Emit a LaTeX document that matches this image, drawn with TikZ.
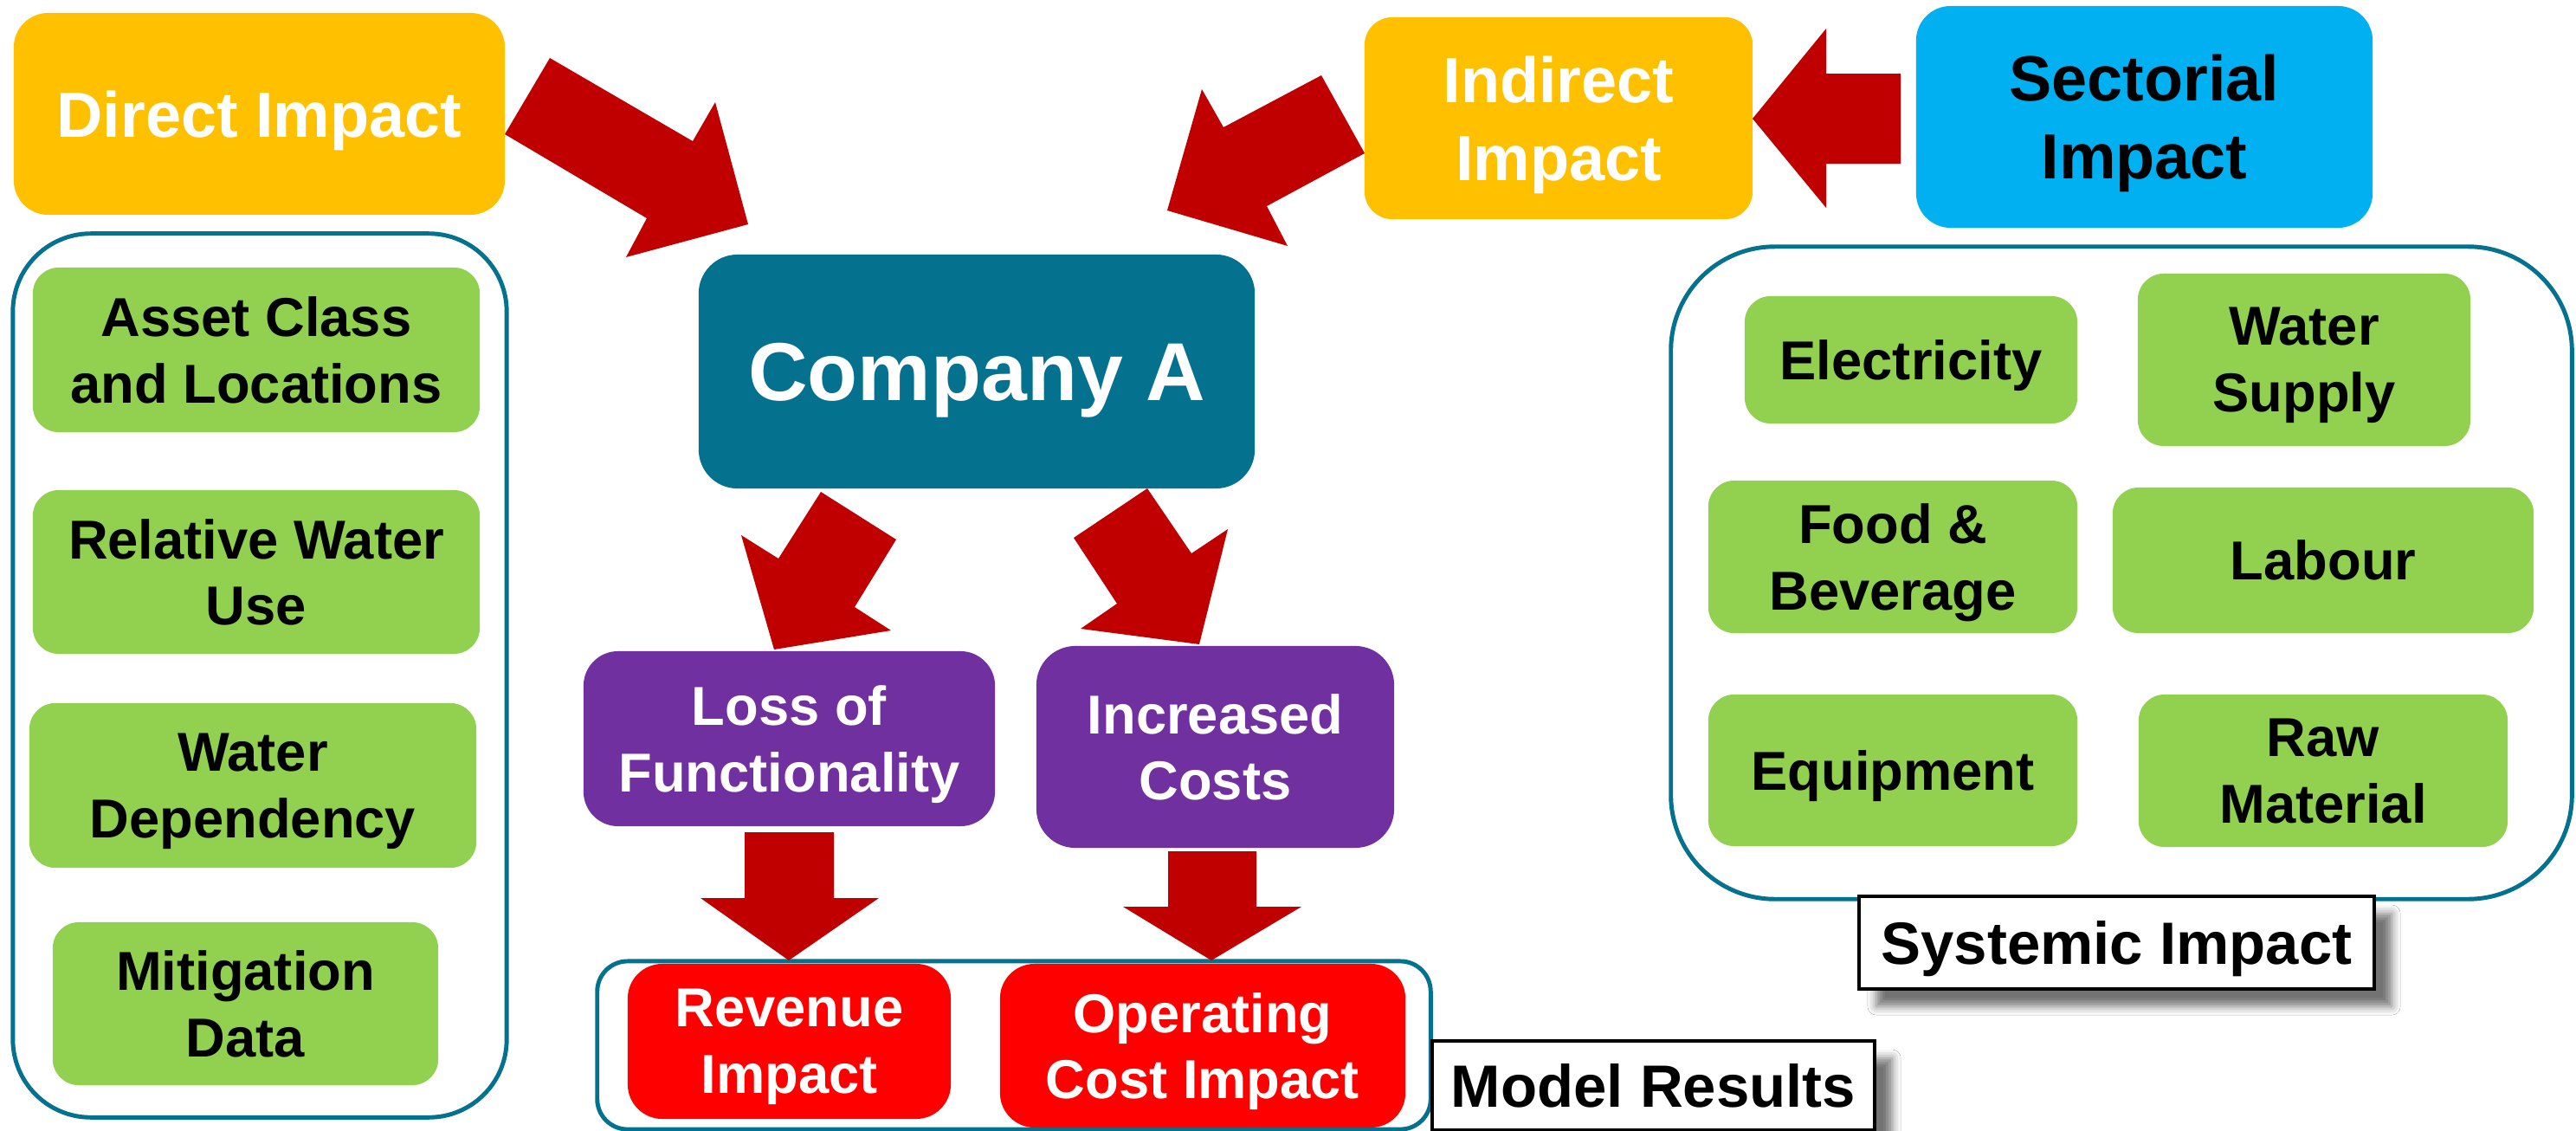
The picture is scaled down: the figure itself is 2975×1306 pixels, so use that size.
\documentclass[tikz,border=0pt]{standalone}
\usepackage{fontspec}
\setmainfont{Liberation Sans}
\usetikzlibrary{shadows.blur}
\definecolor{gold}{HTML}{FFC000}
\definecolor{sky}{HTML}{00B0F0}
\definecolor{tealc}{HTML}{04728F}
\definecolor{leaf}{HTML}{92D050}
\definecolor{plum}{HTML}{7030A0}
\definecolor{brightred}{HTML}{FF0000}
\definecolor{arrowred}{HTML}{C00000}
\begin{document}
\begin{tikzpicture}[x=0.01cm,y=-0.01cm,
  box/.style={rounded corners=4mm, inner sep=0pt, outer sep=0pt, align=center, text depth=0pt},
  fbig/.style={font=\fontsize{27pt}{31pt}\selectfont\bfseries},
  fmid/.style={font=\fontsize{21pt}{25.5pt}\selectfont\bfseries},
  fsml/.style={font=\fontsize{18pt}{21.8pt}\selectfont\bfseries},
  flab/.style={font=\fontsize{19.6pt}{23pt}\selectfont\bfseries},
  greenbox/.style={box, fill=leaf, text=black, fsml, rounded corners=3mm},
  outline/.style={draw=tealc, line width=1.4pt, inner sep=0pt, outer sep=0pt},
  labelbox/.style={draw=black, line width=1.2pt, fill=white, inner sep=0pt, flab, text depth=0pt,
     blur shadow={shadow xshift=2mm, shadow yshift=-2mm, shadow blur radius=1mm, shadow opacity=55}},
  blockarrow/.style={fill=arrowred, draw=none}
]
\useasboundingbox (0,0) rectangle (2975,1306);
\fill[white] (0,0) rectangle (2975,1306);

% containers
\node[outline, rounded corners=9mm, minimum width=57mm, minimum height=102mm] (leftbox) at (300,780) {};
\node[outline, rounded corners=12mm, minimum width=104mm, minimum height=75.3mm] (rightbox) at (2450,661.5) {};
\node[outline, rounded corners=3.5mm, minimum width=96.2mm, minimum height=19.4mm] (resultsbox) at (1171,1207) {};

% top boxes
\node[box, fill=gold, text=white, fmid, minimum width=56.7mm, minimum height=23.3mm] (direct) at (299.5,131.5) {Direct Impact};
\node[box, fill=gold, text=white, fmid, rounded corners=3.2mm, minimum width=44.8mm, minimum height=23.3mm] (indirect) at (1800,136.5) {Indirect\\Impact};
\node[box, fill=sky, text=black, fmid, minimum width=52.7mm, minimum height=25.6mm] (sectorial) at (2476.5,135) {Sectorial\\Impact};
\node[box, fill=tealc, text=white, fbig, rounded corners=4.5mm, minimum width=64.2mm, minimum height=27mm] (company) at (1128,429) {Company A};

% middle boxes
\node[box, fill=plum, text=white, fsml, minimum width=47.5mm, minimum height=20.2mm] (loss) at (911.5,853) {Loss of\\Functionality};
\node[box, fill=plum, text=white, fsml, rounded corners=4.5mm, minimum width=41.3mm, minimum height=23.3mm] (increased) at (1403.5,862.5) {Increased\\Costs};

% results
\node[box, fill=brightred, text=white, fsml, minimum width=37.3mm, minimum height=17.9mm] (revenue) at (911.5,1202.5) {Revenue\\Impact};
\node[box, fill=brightred, text=white, fsml, minimum width=46.8mm, minimum height=18.9mm] (operating) at (1389,1207.5) {Operating\\Cost Impact};

% left green boxes
\node[greenbox, minimum width=51.6mm, minimum height=19mm] (asset) at (296,404) {Asset Class\\and Locations};
\node[greenbox, minimum width=51.6mm, minimum height=18.9mm] (relwater) at (296,660.5) {Relative Water\\Use};
\node[greenbox, minimum width=51.6mm, minimum height=19mm] (dependency) at (292,907) {Water\\Dependency};
\node[greenbox, minimum width=44.5mm, minimum height=18.8mm] (mitigation) at (283.5,1159) {Mitigation\\Data};

% right green boxes
\node[greenbox, minimum width=38.4mm, minimum height=14.7mm] (electricity) at (2207,415.5) {Electricity};
\node[greenbox, minimum width=38.4mm, minimum height=19.9mm] (watersupply) at (2661,415.5) {Water\\Supply};
\node[greenbox, minimum width=42.6mm, minimum height=17.6mm] (food) at (2186,643) {Food \&\\Beverage};
\node[greenbox, minimum width=48.6mm, minimum height=16.8mm] (labour) at (2683,647) {Labour};
\node[greenbox, minimum width=42.6mm, minimum height=17.5mm] (equipment) at (2186,889.5) {Equipment};
\node[greenbox, minimum width=42.6mm, minimum height=17.6mm] (rawmat) at (2683,890) {Raw\\Material};

% labels
\node[labelbox, minimum width=59.5mm, minimum height=10.7mm] (systemic) at (2444.5,1088.5) {Systemic Impact};
\node[labelbox, minimum width=51.1mm, minimum height=10.3mm] (results) at (1909.5,1253.5) {Model Results};

% block arrows
\fill[blockarrow] (583,155) -- (635,67) -- (800,163) -- (826,118) -- (864,259) -- (723,297) -- (747,252) -- cycle;
\fill[blockarrow] (1526,87) -- (1576,177) -- (1463,238) -- (1487,284) -- (1348,243) -- (1388,103) -- (1413,147) -- cycle;
\fill[blockarrow] (2024,137) -- (2109,33) -- (2109,85) -- (2195,85) -- (2195,189) -- (2109,189) -- (2109,240) -- cycle;
\fill[blockarrow] (948,568) -- (1035,623) -- (987,701) -- (1029,728) -- (894,750) -- (856,618) -- (899,645) -- cycle;
\fill[blockarrow] (1325,564) -- (1240,621) -- (1290,697) -- (1248,726) -- (1385,744) -- (1418,611) -- (1376,639) -- cycle;
\fill[blockarrow] (860,961) -- (963,961) -- (963,1037) -- (1015,1037) -- (911,1109) -- (809,1037) -- (860,1037) -- cycle;
\fill[blockarrow] (1349,983) -- (1451,983) -- (1451,1047) -- (1503,1047) -- (1399,1109) -- (1297,1047) -- (1349,1047) -- cycle;
\end{tikzpicture}
\end{document}
